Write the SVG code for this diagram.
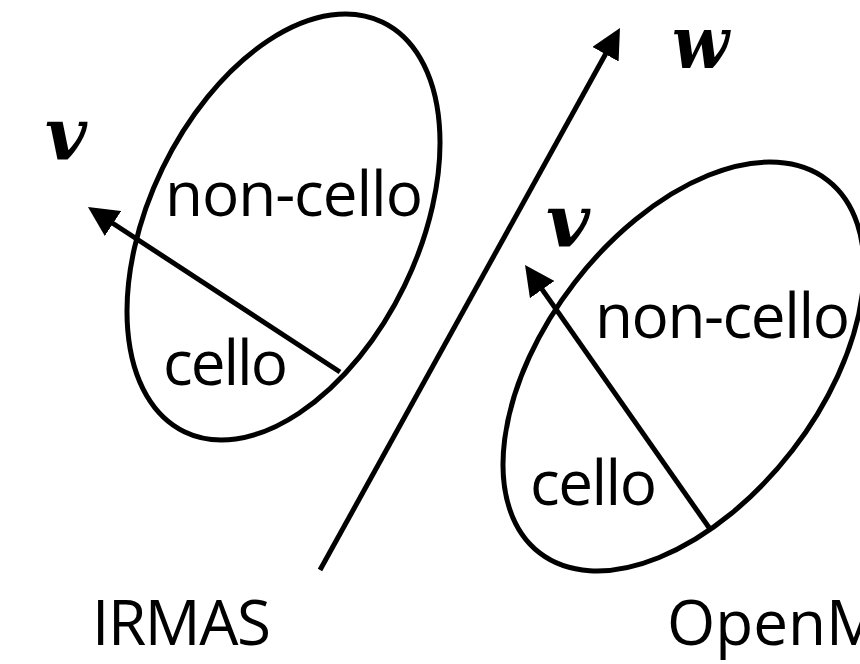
<svg xmlns="http://www.w3.org/2000/svg" width="860" height="664" viewBox="0 0 860 664">
  <style>
    .shape { fill: none; stroke: #000; stroke-width: 5; }
    .conn { fill: none; stroke: #000; stroke-width: 5; stroke-linecap: butt; marker-end: url(#arrow); }
    .lbl { font-family: "Open Sans", "Noto Sans", "Liberation Sans", sans-serif; font-size: 62px; fill: #000; }
    .vec { font-family: "DejaVu Serif", "Liberation Serif", serif; font-size: 72px; font-weight: bold; font-style: italic; fill: #000; }
  </style>
  <defs>
    <marker id="arrow" markerUnits="userSpaceOnUse" markerWidth="30" markerHeight="30" refX="10" refY="15" orient="auto" viewBox="0 0 30 30">
      <path d="M0,0 L30,15 L0,30 z" fill="#000"/>
    </marker>
  </defs>
  <rect width="860" height="664" fill="#fff"/>

  <g id="irmas-cluster">
    <ellipse class="shape" cx="283.5" cy="227" rx="134.5" ry="227.5" transform="rotate(25.85 283.5 227)"/>
    <text class="lbl" x="165" y="216" textLength="258">non-cello</text>
    <text class="lbl" x="163" y="385" textLength="125">cello</text>
  </g>

  <g id="openmic-cluster">
    <ellipse class="shape" cx="683.5" cy="366.5" rx="235.5" ry="137.5" transform="rotate(-52.3 683.5 366.5)"/>
    <text class="lbl" x="595" y="338" textLength="255">non-cello</text>
    <text class="lbl" x="530" y="505" textLength="127">cello</text>
  </g>

  <g id="connectors">
    <line class="conn" x1="340" y1="372" x2="104.7" y2="218"/>
    <line class="conn" x1="320" y1="570" x2="610.3" y2="45.5"/>
    <line class="conn" x1="710" y1="529" x2="536.5" y2="281.4"/>
  </g>

  <g id="vector-labels">
    <text class="vec" x="45" y="160" textLength="42" lengthAdjust="spacingAndGlyphs">v</text>
    <text class="vec" x="672" y="68" textLength="57" lengthAdjust="spacingAndGlyphs">w</text>
    <text class="vec" x="546" y="247" textLength="44" lengthAdjust="spacingAndGlyphs">v</text>
  </g>

  <g id="dataset-labels">
    <text class="lbl" x="92" y="645" textLength="179">IRMAS</text>
    <text class="lbl" x="667" y="645">OpenM</text>
  </g>
</svg>
